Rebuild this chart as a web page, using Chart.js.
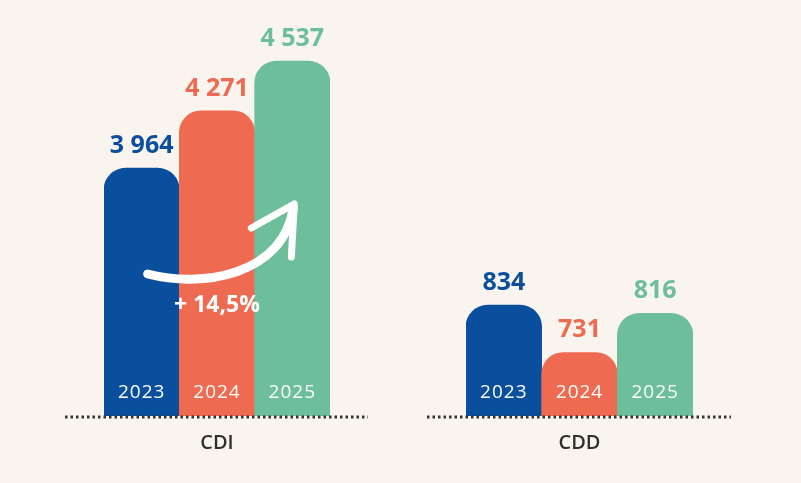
<!DOCTYPE html>
<html>
<head>
<meta charset="utf-8">
<script src="https://cdn.jsdelivr.net/npm/chart.js@4.4.1/dist/chart.umd.min.js"></script>
<style>
  html, body { margin: 0; padding: 0; background: #f9f4ee; }
  #wrap { position: relative; width: 801px; height: 483px; }
  .box { position: absolute; top: 0; height: 483px; }
  #boxCdi { left: 0; width: 400px; }
  #boxCdd { left: 400px; width: 401px; }
</style>
</head>
<body>
<div id="wrap">
  <div class="box" id="boxCdi"><canvas id="chartCdi"></canvas></div>
  <div class="box" id="boxCdd"><canvas id="chartCdd"></canvas></div>
</div>
<script>
const years = ['2023', '2024', '2025'];
const groups = ['CDI', 'CDD'];
const cdiValues = [3964, 4271, 4537];
const cddValues = [834, 731, 816];

const barColors = ['#0a4f9e', '#ee6a50', '#6cbf9a'];
const FONT = '"Open Sans", "Noto Sans", sans-serif';

function fmt(n) {
    return String(n).replace(/\B(?=(\d{3})+(?!\d))/g, ' ');
}

// value labels, year labels, dotted baseline and group name
const decorPlugin = {
    id: 'decor',
    afterDatasetsDraw(chart, args, opts) {
        const ctx = chart.ctx;
        const area = chart.chartArea;
        const meta = chart.getDatasetMeta(0);
        const values = chart.data.datasets[0].data;
        ctx.save();
        ctx.textAlign = 'center';

        meta.data.forEach((bar, i) => {
            ctx.fillStyle = barColors[i];
            ctx.font = 'bold 25px ' + FONT;
            ctx.textBaseline = 'alphabetic';
            ctx.fillText(fmt(values[i]), bar.x, bar.y - 15);

            ctx.fillStyle = '#ffffff';
            ctx.font = '19px ' + FONT;
            ctx.letterSpacing = '1px';
            ctx.textBaseline = 'middle';
            ctx.fillText(chart.data.labels[i], bar.x, area.bottom - 23);
            ctx.letterSpacing = '0px';
        });

        // dotted baseline
        ctx.strokeStyle = '#333333';
        ctx.lineWidth = 3;
        ctx.setLineDash([2.5, 3]);
        ctx.beginPath();
        ctx.moveTo(area.left - 39, area.bottom + 1);
        ctx.lineTo(area.right + 38, area.bottom + 1);
        ctx.stroke();
        ctx.setLineDash([]);

        // group name
        ctx.fillStyle = '#2f2f2f';
        ctx.font = '600 20px ' + FONT;
        ctx.textBaseline = 'middle';
        ctx.fillText(opts.group, (area.left + area.right) / 2, area.bottom + 27);
        ctx.restore();
    }
};

// growth arrow on the CDI group
const arrowPlugin = {
    id: 'growthArrow',
    afterDatasetsDraw(chart, args, opts) {
        if (!opts.show) return;
        const ctx = chart.ctx;
        const area = chart.chartArea;
        const bars = chart.getDatasetMeta(0).data;
        const vals = chart.data.datasets[0].data;
        const b0 = bars[0], b1 = bars[1], b2 = bars[2];
        const base = area.bottom;

        ctx.save();
        ctx.strokeStyle = '#ffffff';
        ctx.lineCap = 'round';
        ctx.lineJoin = 'round';
        ctx.lineWidth = 9;
        ctx.beginPath();
        ctx.moveTo(b0.x + 6, base - 142);
        ctx.bezierCurveTo(b0.x + 60, base - 128, b2.x - 10, base - 140, b2.x + 1, base - 208);
        ctx.stroke();

        ctx.lineWidth = 7;
        ctx.beginPath();
        ctx.moveTo(b2.x - 41, base - 188);
        ctx.lineTo(b2.x + 2, base - 212);
        ctx.lineTo(b2.x - 1, base - 159);
        ctx.stroke();

        const pct = (vals[2] - vals[0]) / vals[0] * 100;
        ctx.fillStyle = '#ffffff';
        ctx.font = 'bold 23px ' + FONT;
        ctx.textAlign = 'center';
        ctx.textBaseline = 'middle';
        ctx.fillText('+ ' + pct.toFixed(1).replace('.', ',') + '%', b1.x, base - 111);
        ctx.restore();
    }
};

function CreateChart(id, group, values, yMin, yMax, padLeft, padRight, showArrow) {
    const ctx = document.getElementById(id);
    return new Chart(ctx, {
        type: 'bar',
        data: {
            labels: years,
            datasets: [{
                data: values,
                backgroundColor: barColors,
                borderWidth: 0,
                borderRadius: { topLeft: 22, topRight: 22, bottomLeft: 0, bottomRight: 0 },
                borderSkipped: 'start',
                barPercentage: 1,
                categoryPercentage: 1
            }]
        },
        options: {
            responsive: true,
            maintainAspectRatio: false,
            animation: false,
            layout: {
                padding: { left: padLeft, right: padRight, top: 0, bottom: 67 }
            },
            scales: {
                x: { display: false },
                y: { display: false, min: yMin, max: yMax }
            },
            plugins: {
                legend: { display: false },
                tooltip: { enabled: false },
                decor: { group: group },
                growthArrow: { show: showArrow }
            }
        },
        plugins: [decorPlugin, arrowPlugin]
    });
}

CreateChart('chartCdi', groups[0], cdiValues, 2637, 4864, 104, 70, true);
CreateChart('chartCdd', groups[1], cddValues, 593, 1497, 66, 108, false);
</script>
</body>
</html>
